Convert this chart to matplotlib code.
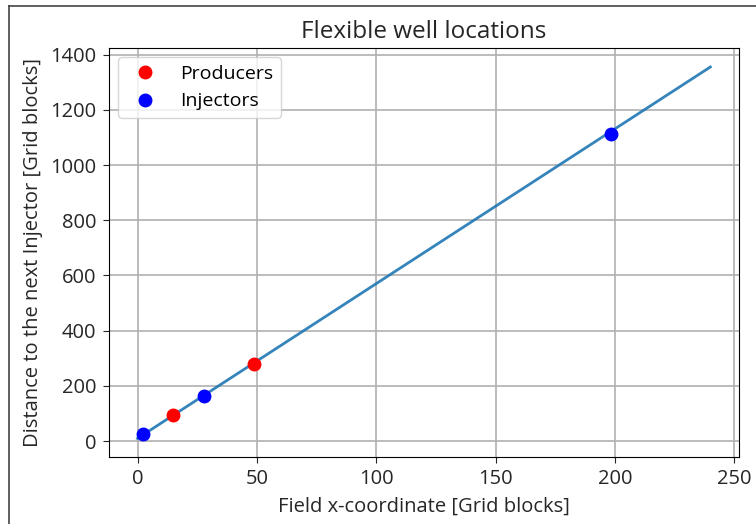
import numpy as np
import matplotlib
matplotlib.use("Agg")
import matplotlib.pyplot as plt
from matplotlib.lines import Line2D

plt.rcParams['font.family'] = ['Open Sans', 'DejaVu Sans']

# trend of distance to next injector vs x-coordinate
line_x = [0, 240]
line_y = [10, 1355]

# well positions
prod_x = [15, 49]
prod_y = [94, 278]
inj_x = [2.5, 28, 198.5]
inj_y = [25, 162, 1113]

fig = plt.figure(figsize=(7.56, 5.24), dpi=100)
ax = fig.add_axes([0.144, 0.128, 0.8335, 0.78])

ax.plot(line_x, line_y, color='#1f77b4', lw=2, alpha=0.9)
ax.plot(prod_x, prod_y, 'ro', ms=9, label='Producers')
ax.plot(inj_x, inj_y, 'bo', ms=9, label='Injectors')

ax.set_xlim(-12, 252)
ax.set_ylim(-57, 1423)
ax.set_xticks([0, 50, 100, 150, 200, 250])
ax.set_yticks(np.arange(0, 1401, 200))
ax.grid(True, color='#b0b0b0', lw=1.2)
ax.tick_params(labelsize=14.5, colors='#262626', length=4.5, pad=4.5)
ax.set_title('Flexible well locations', fontsize=17.5, color='#262626', pad=7)
ax.set_xlabel('Field x-coordinate [Grid blocks]', fontsize=14.5, color='#262626', labelpad=5)
ax.set_ylabel('Distance to the next Injector [Grid blocks]', fontsize=14.5, color='#262626', labelpad=5)
ax.legend(loc='upper left', fontsize=14, borderaxespad=0.45)

# outer frame of the output cell
fig.add_artist(Line2D([9/756, 9/756], [0, 1-6/524], color='#444444', lw=1.2))
fig.add_artist(Line2D([9/756, 1], [1-6/524, 1-6/524], color='#444444', lw=1.2))

fig.savefig('out.png', dpi=100)
